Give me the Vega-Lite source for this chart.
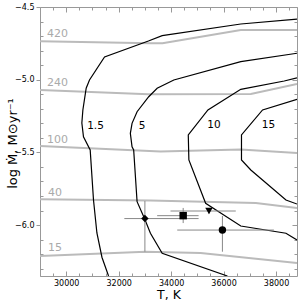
{
  "$schema": "https://vega.github.io/schema/vega-lite/v6.json",
  "autosize": {"type": "none"},
  "padding": {"left": 40, "top": 7, "right": 3, "bottom": 24},
  "width": 257,
  "height": 269,
  "background": "white",
  "config": {
    "view": {"stroke": null},
    "font": "DejaVu Sans"
  },
  "datasets": {
    "gray": [
      {"g": "420", "i": 0, "T": 29000, "m": -4.736},
      {"g": "420", "i": 1, "T": 33211, "m": -4.750},
      {"g": "420", "i": 2, "T": 33670, "m": -4.750},
      {"g": "420", "i": 3, "T": 36656, "m": -4.658},
      {"g": "420", "i": 4, "T": 38800, "m": -4.658},
      {"g": "240", "i": 0, "T": 29000, "m": -5.071},
      {"g": "240", "i": 1, "T": 33134, "m": -5.100},
      {"g": "240", "i": 2, "T": 37039, "m": -5.098},
      {"g": "240", "i": 3, "T": 38800, "m": -5.030},
      {"g": "100", "i": 0, "T": 29000, "m": -5.456},
      {"g": "100", "i": 1, "T": 33594, "m": -5.494},
      {"g": "100", "i": 2, "T": 36656, "m": -5.480},
      {"g": "100", "i": 3, "T": 38800, "m": -5.504},
      {"g": "40", "i": 0, "T": 29000, "m": -5.823},
      {"g": "40", "i": 1, "T": 33211, "m": -5.831},
      {"g": "40", "i": 2, "T": 37230, "m": -5.848},
      {"g": "40", "i": 3, "T": 38800, "m": -5.882},
      {"g": "15", "i": 0, "T": 29000, "m": -6.213},
      {"g": "15", "i": 1, "T": 33019, "m": -6.183},
      {"g": "15", "i": 2, "T": 35125, "m": -6.192},
      {"g": "15", "i": 3, "T": 38800, "m": -6.261}
    ],
    "black": [
      {"c": "1.5", "i": 0, "T": 31614, "m": -6.350},
      {"c": "1.5", "i": 1, "T": 31362, "m": -6.221},
      {"c": "1.5", "i": 2, "T": 31170, "m": -6.054},
      {"c": "1.5", "i": 3, "T": 31040, "m": -5.827},
      {"c": "1.5", "i": 4, "T": 30914, "m": -5.483},
      {"c": "1.5", "i": 5, "T": 30658, "m": -5.392},
      {"c": "1.5", "i": 6, "T": 30596, "m": -5.298},
      {"c": "1.5", "i": 7, "T": 30635, "m": -5.208},
      {"c": "1.5", "i": 8, "T": 30761, "m": -5.059},
      {"c": "1.5", "i": 9, "T": 30887, "m": -5.002},
      {"c": "1.5", "i": 10, "T": 31461, "m": -4.844},
      {"c": "1.5", "i": 11, "T": 33134, "m": -4.734},
      {"c": "1.5", "i": 12, "T": 33659, "m": -4.697},
      {"c": "1.5", "i": 13, "T": 36656, "m": -4.617},
      {"c": "1.5", "i": 14, "T": 38800, "m": -4.583},
      {"c": "5", "i": 0, "T": 36147, "m": -6.350},
      {"c": "5", "i": 1, "T": 33659, "m": -6.194},
      {"c": "5", "i": 2, "T": 33211, "m": -6.056},
      {"c": "5", "i": 3, "T": 32981, "m": -5.953},
      {"c": "5", "i": 4, "T": 32702, "m": -5.839},
      {"c": "5", "i": 5, "T": 32572, "m": -5.483},
      {"c": "5", "i": 6, "T": 32510, "m": -5.461},
      {"c": "5", "i": 7, "T": 32445, "m": -5.369},
      {"c": "5", "i": 8, "T": 32510, "m": -5.300},
      {"c": "5", "i": 9, "T": 32702, "m": -5.220},
      {"c": "5", "i": 10, "T": 33146, "m": -5.117},
      {"c": "5", "i": 11, "T": 33467, "m": -5.059},
      {"c": "5", "i": 12, "T": 34103, "m": -5.002},
      {"c": "5", "i": 13, "T": 36656, "m": -4.876},
      {"c": "5", "i": 14, "T": 38800, "m": -4.818},
      {"c": "10", "i": 0, "T": 38800, "m": -6.102},
      {"c": "10", "i": 1, "T": 38379, "m": -6.056},
      {"c": "10", "i": 2, "T": 36656, "m": -6.006},
      {"c": "10", "i": 3, "T": 35316, "m": -5.850},
      {"c": "10", "i": 4, "T": 34677, "m": -5.552},
      {"c": "10", "i": 5, "T": 34654, "m": -5.380},
      {"c": "10", "i": 6, "T": 35404, "m": -5.208},
      {"c": "10", "i": 7, "T": 36656, "m": -5.066},
      {"c": "10", "i": 8, "T": 38313, "m": -5.009},
      {"c": "10", "i": 9, "T": 38800, "m": -4.988},
      {"c": "15", "i": 0, "T": 38800, "m": -5.855},
      {"c": "15", "i": 1, "T": 38379, "m": -5.827},
      {"c": "15", "i": 2, "T": 37039, "m": -5.621},
      {"c": "15", "i": 3, "T": 36683, "m": -5.552},
      {"c": "15", "i": 4, "T": 36683, "m": -5.380},
      {"c": "15", "i": 5, "T": 37487, "m": -5.208},
      {"c": "15", "i": 6, "T": 38800, "m": -5.135}
    ],
    "graylabels": [
      {"t": "420", "T": 29670, "m": -4.688},
      {"t": "240", "T": 29670, "m": -5.021},
      {"t": "100", "T": 29670, "m": -5.415},
      {"t": "40", "T": 29574, "m": -5.781},
      {"t": "15", "T": 29574, "m": -6.160}
    ],
    "blacklabels": [
      {"t": "1.5", "T": 31117, "m": -5.318},
      {"t": "5", "T": 32893, "m": -5.318},
      {"t": "10", "T": 35634, "m": -5.312},
      {"t": "15", "T": 37709, "m": -5.312}
    ],
    "stars": [
      {"s": "d", "T": 33000, "m": -5.955, "Tlo": 32216, "Thi": 35048, "mlo": -6.183, "mhi": -5.834},
      {"s": "s", "T": 34460, "m": -5.935, "Tlo": 33467, "Thi": 35048, "mlo": -5.986, "mhi": -5.882},
      {"s": "v", "T": 35443, "m": -5.903, "Tlo": 33976, "Thi": 36465, "mlo": -5.92, "mhi": -5.89},
      {"s": "o", "T": 35956, "m": -6.034, "Tlo": 34233, "Thi": 37919, "mlo": -6.183, "mhi": -5.937}
    ]
  },
  "layer": [
    {
      "data": {"name": "stars"},
      "mark": {"type": "point", "opacity": 0},
      "encoding": {
        "x": {"field": "T", "type": "quantitative",
          "scale": {"domain": [29000, 38800], "nice": false, "zero": false},
          "axis": {
            "orient": "bottom", "title": "T, K",
            "values": [30000, 32000, 34000, 36000, 38000],
            "format": "d",
            "tickSize": -5,
            "grid": false, "domainColor": "#999", "tickColor": "#999",
            "labelFontSize": 8, "labelColor": "#000", "labelPadding": 8, "labelFlush": false,
            "titleFontSize": 12.5, "titleFontWeight": "normal", "titleColor": "#000", "titlePadding": 1
          }},
        "y": {"field": "m", "type": "quantitative",
          "scale": {"domain": [-6.35, -4.5], "nice": false, "zero": false},
          "axis": {
            "orient": "left", "title": "log Ṁ, M⊙yr⁻¹",
            "values": [-6.0, -5.5, -5.0, -4.5],
            "format": ".1f",
            "tickSize": 4,
            "grid": false, "domainColor": "#999", "tickColor": "#999",
            "labelFontSize": 8, "labelColor": "#000", "labelPadding": 2, "labelFlush": false,
            "titleFontSize": 13, "titleFontWeight": "normal", "titleColor": "#000",
            "titleX": -28, "titleY": 136, "titleBaseline": "middle", "titleAlign": "center", "titleAngle": -90
          }}
      }
    },
    {
      "data": {"name": "stars"},
      "mark": {"type": "point", "opacity": 0},
      "encoding": {
        "x": {"field": "T", "type": "quantitative",
          "scale": {"domain": [29000, 38800], "nice": false, "zero": false},
          "axis": {
            "orient": "bottom", "title": null, "labels": false, "domain": false,
            "values": [29000, 29500, 30500, 31000, 31500, 32500, 33000, 33500, 34500, 35000, 35500, 36500, 37000, 37500, 38500],
            "tickSize": -3, "grid": false, "tickColor": "#999"
          }},
        "y": {"field": "m", "type": "quantitative",
          "scale": {"domain": [-6.35, -4.5], "nice": false, "zero": false},
          "axis": {
            "orient": "left", "title": null, "labels": false, "domain": false,
            "values": [-6.3, -6.2, -6.1, -5.9, -5.8, -5.7, -5.6, -5.4, -5.3, -5.2, -5.1, -4.9, -4.8, -4.7, -4.6],
            "tickSize": -3, "grid": false, "tickColor": "#999"
          }}
      }
    },
    {
      "data": {"name": "stars"},
      "mark": {"type": "point", "opacity": 0},
      "encoding": {
        "x": {"field": "T", "type": "quantitative",
          "scale": {"domain": [29000, 38800], "nice": false, "zero": false},
          "axis": {
            "orient": "top", "title": null, "labels": false,
            "values": [30000, 32000, 34000, 36000, 38000],
            "tickSize": -5,
            "grid": false, "domainColor": "#999", "tickColor": "#999"
          }},
        "y": {"field": "m", "type": "quantitative",
          "scale": {"domain": [-6.35, -4.5], "nice": false, "zero": false},
          "axis": {
            "orient": "right", "title": null, "labels": false,
            "values": [-6.0, -5.5, -5.0, -4.5],
            "tickSize": -5,
            "grid": false, "domainColor": "#999", "tickColor": "#999"
          }}
      }
    },
    {
      "data": {"name": "stars"},
      "mark": {"type": "point", "opacity": 0},
      "encoding": {
        "x": {"field": "T", "type": "quantitative",
          "scale": {"domain": [29000, 38800], "nice": false, "zero": false},
          "axis": {
            "orient": "top", "title": null, "labels": false, "domain": false,
            "values": [29000, 29500, 30500, 31000, 31500, 32500, 33000, 33500, 34500, 35000, 35500, 36500, 37000, 37500, 38500],
            "tickSize": -3, "grid": false, "tickColor": "#999"
          }},
        "y": {"field": "m", "type": "quantitative",
          "scale": {"domain": [-6.35, -4.5], "nice": false, "zero": false},
          "axis": {
            "orient": "right", "title": null, "labels": false, "domain": false,
            "values": [-6.3, -6.2, -6.1, -5.9, -5.8, -5.7, -5.6, -5.4, -5.3, -5.2, -5.1, -4.9, -4.8, -4.7, -4.6],
            "tickSize": -3, "grid": false, "tickColor": "#999"
          }}
      }
    },
    {
      "data": {"name": "gray"},
      "mark": {"type": "line", "color": "#bbbbbb", "strokeWidth": 2, "clip": true},
      "encoding": {
        "x": {"field": "T", "type": "quantitative", "axis": null},
        "y": {"field": "m", "type": "quantitative", "axis": null},
        "detail": {"field": "g"},
        "order": {"field": "i", "type": "quantitative"}
      }
    },
    {
      "data": {"name": "black"},
      "mark": {"type": "line", "color": "#000000", "strokeWidth": 1.2, "clip": true},
      "encoding": {
        "x": {"field": "T", "type": "quantitative", "axis": null},
        "y": {"field": "m", "type": "quantitative", "axis": null},
        "detail": {"field": "c"},
        "order": {"field": "i", "type": "quantitative"}
      }
    },
    {
      "data": {"name": "stars"},
      "mark": {"type": "rule", "color": "#888888", "strokeWidth": 1},
      "encoding": {
        "x": {"field": "Tlo", "type": "quantitative", "axis": null},
        "x2": {"field": "Thi"},
        "y": {"field": "m", "type": "quantitative", "axis": null}
      }
    },
    {
      "data": {"name": "stars"},
      "mark": {"type": "rule", "color": "#888888", "strokeWidth": 1},
      "encoding": {
        "x": {"field": "T", "type": "quantitative", "axis": null},
        "y": {"field": "mlo", "type": "quantitative", "axis": null},
        "y2": {"field": "mhi"}
      }
    },
    {
      "data": {"name": "stars"},
      "mark": {"type": "point", "filled": true, "color": "#000000", "opacity": 1, "size": 55},
      "encoding": {
        "x": {"field": "T", "type": "quantitative", "axis": null},
        "y": {"field": "m", "type": "quantitative", "axis": null},
        "shape": {"field": "s", "type": "nominal",
          "scale": {"domain": ["d", "s", "v", "o"], "range": ["diamond", "square", "triangle-down", "circle"]},
          "legend": null}
      }
    },
    {
      "data": {"name": "graylabels"},
      "mark": {"type": "text", "color": "#aaaaaa", "fontSize": 11, "align": "center", "baseline": "middle"},
      "encoding": {
        "x": {"field": "T", "type": "quantitative", "axis": null},
        "y": {"field": "m", "type": "quantitative", "axis": null},
        "text": {"field": "t"}
      }
    },
    {
      "data": {"name": "blacklabels"},
      "mark": {"type": "text", "color": "#000000", "fontSize": 10.5, "align": "center", "baseline": "middle"},
      "encoding": {
        "x": {"field": "T", "type": "quantitative", "axis": null},
        "y": {"field": "m", "type": "quantitative", "axis": null},
        "text": {"field": "t"}
      }
    }
  ],
  "resolve": {"axis": {"x": "independent", "y": "independent"}}
}
